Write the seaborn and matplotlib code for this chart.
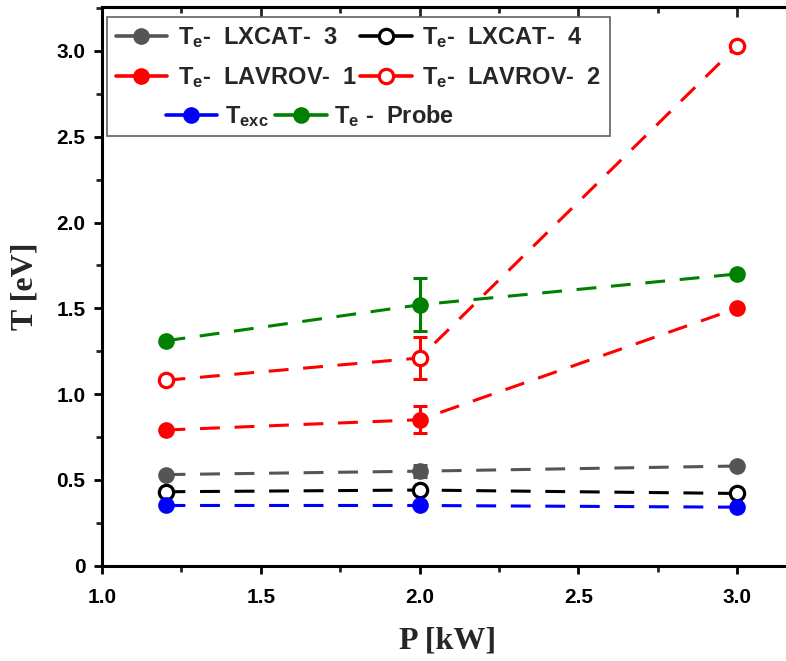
import numpy as np
import pandas as pd
import matplotlib
matplotlib.use("Agg")
import matplotlib.pyplot as plt
import seaborn as sns
from matplotlib.lines import Line2D
from matplotlib.ticker import MultipleLocator

# ---------------- data ----------------
power = [1.2, 2.0, 3.0]
te_lxcat3 = [0.53, 0.55, 0.58]
te_lxcat3_err = [0.0, 0.035, 0.0]
te_lxcat4 = [0.43, 0.44, 0.42]
te_lxcat4_err = [0.0, 0.0, 0.0]
te_lavrov1 = [0.79, 0.85, 1.50]
te_lavrov1_err = [0.0, 0.08, 0.0]
te_lavrov2 = [1.08, 1.21, 3.03]
te_lavrov2_err = [0.0, 0.12, 0.0]
t_exc = [0.35, 0.35, 0.34]
t_exc_err = [0.0, 0.0, 0.0]
te_probe = [1.31, 1.52, 1.70]
te_probe_err = [0.0, 0.155, 0.0]

series_names = ["LXCAT-3", "LXCAT-4", "LAVROV-1", "LAVROV-2", "Texc", "Probe"]
series_labels = [r"T$_e$-  LXCAT-  3", r"T$_e$-  LXCAT-  4", r"T$_e$-  LAVROV-  1",
                 r"T$_e$-  LAVROV-  2", r"T$_{exc}$", r"T$_e$ -  Probe"]
series_values = [te_lxcat3, te_lxcat4, te_lavrov1, te_lavrov2, t_exc, te_probe]
series_errs = [te_lxcat3_err, te_lxcat4_err, te_lavrov1_err, te_lavrov2_err, t_exc_err, te_probe_err]
series_colors = ["#555555", "#000000", "#ff0000", "#ff0000", "#0000ff", "#008000"]
series_open = [False, True, False, True, False, False]

rows = []
for name, vals, errs in zip(series_names, series_values, series_errs):
    for p, v, e in zip(power, vals, errs):
        rows.append({"series": name, "P": p, "T": v, "err": e})
df = pd.DataFrame(rows)

# ---------------- style ----------------
sns.set_style("ticks")
plt.rcParams["font.family"] = ["Liberation Sans", "DejaVu Sans"]
plt.rcParams["font.weight"] = "bold"
plt.rcParams["mathtext.fontset"] = "custom"
plt.rcParams["mathtext.rm"] = "Liberation Sans:bold"
plt.rcParams["mathtext.it"] = "Liberation Sans:bold"
plt.rcParams["mathtext.bf"] = "Liberation Sans:bold"
plt.rcParams["mathtext.default"] = "rm"

fig = plt.figure(figsize=(7.86, 6.61), dpi=100)
ax = fig.add_axes([102 / 786, (661 - 565.5) / 661, 1 - 102 / 786 + 0.01, (565.5 - 7) / 661])

lw = 2.2
dash = (0, (6.5, 4.8))
for i, (name, color, is_open) in enumerate(zip(series_names, series_colors, series_open)):
    sub = df[df["series"] == name]
    eb = sub[sub["err"] > 0]
    if len(eb):
        ax.errorbar(eb["P"], eb["T"], yerr=eb["err"], fmt="none", ecolor=color,
                    elinewidth=lw, capsize=5, capthick=lw, zorder=2 + i * 0.1)
    sns.lineplot(data=sub, x="P", y="T", ax=ax, color=color, linewidth=lw,
                 linestyle=dash, marker="o", markersize=10.3 if is_open else 12,
                 markerfacecolor="white" if is_open else color,
                 markeredgecolor=color, markeredgewidth=2.3 if is_open else 0,
                 zorder=3 + i * 0.1, legend=False)

ax.set_xlim(1.0, 1.0 + (786 - 102) / 314.0)
ax.set_ylim(0, (565.5 - 7) / 171.5)
ax.xaxis.set_minor_locator(MultipleLocator(0.25))
ax.yaxis.set_minor_locator(MultipleLocator(0.25))
ax.set_yticks([0, 0.5, 1.0, 1.5, 2.0, 2.5, 3.0])
ax.set_yticklabels(["0", "0.5", "1.0", "1.5", "2.0", "2.5", "3.0"])
ax.set_xticks([1.0, 1.5, 2.0, 2.5, 3.0])
ax.set_xticklabels(["1.0", "1.5", "2.0", "2.5", "3.0"])

for side in ["left", "bottom", "top"]:
    ax.spines[side].set_linewidth(2.2)
    ax.spines[side].set_color("black")
ax.spines["right"].set_visible(False)
ax.tick_params(axis="both", which="major", direction="out", length=6, width=2.0,
               labelsize=15, pad=6, colors="black")
ax.tick_params(axis="both", which="minor", direction="out", length=4, width=2.0)
ax.tick_params(axis="x", which="major", pad=10)
for lab in ax.get_xticklabels() + ax.get_yticklabels():
    lab.set_fontweight("bold")

# top ticks pointing inward
top = ax.secondary_xaxis("top")
top.xaxis.set_major_locator(MultipleLocator(0.5))
top.xaxis.set_minor_locator(MultipleLocator(0.25))
top.tick_params(axis="x", which="major", direction="in", length=7, width=2.0, labeltop=False)
top.tick_params(axis="x", which="minor", direction="in", length=4, width=2.0)
top.spines["top"].set_linewidth(2.2)

ax.set_xlabel("P [kW]", fontsize=23, fontweight="bold", family="Liberation Serif", labelpad=14)
ax.set_ylabel("T [eV]", fontsize=23, fontweight="bold", family="Liberation Serif", labelpad=12)

# ---------------- legend ----------------
def handle(color, is_open):
    return Line2D([], [], color=color, linewidth=2.6, marker="o",
                  markersize=10.3 if is_open else 12,
                  markerfacecolor="white" if is_open else color,
                  markeredgecolor=color, markeredgewidth=2.3 if is_open else 0)

hs = [handle(c, o) for c, o in zip(series_colors, series_open)]
blank = Line2D([], [], color="none")
leg1 = ax.legend([hs[0], hs[2], blank, hs[1], hs[3], blank],
                 [series_labels[0], series_labels[2], " ", series_labels[1], series_labels[3], " "],
                 ncol=2, loc="upper left", bbox_to_anchor=(107 / 786, 1 - 17 / 661),
                 bbox_transform=fig.transFigure, borderaxespad=0,
                 handlelength=2.2, handletextpad=0.45, columnspacing=0.1,
                 labelspacing=0.62, borderpad=0.36, fancybox=False, framealpha=1,
                 edgecolor="#606060", prop={"weight": "bold", "size": 17})
leg1.get_frame().set_linewidth(1.2)
ax.add_artist(leg1)
leg2 = ax.legend([hs[4], hs[5]], [series_labels[4], series_labels[5]], ncol=2,
                 loc="center", bbox_to_anchor=(310 / 786, 1 - 116 / 661),
                 bbox_transform=fig.transFigure, frameon=False,
                 handlelength=2.2, handletextpad=0.3, columnspacing=0.3,
                 prop={"weight": "bold", "size": 17})

fig.savefig("out.png", dpi=100)
